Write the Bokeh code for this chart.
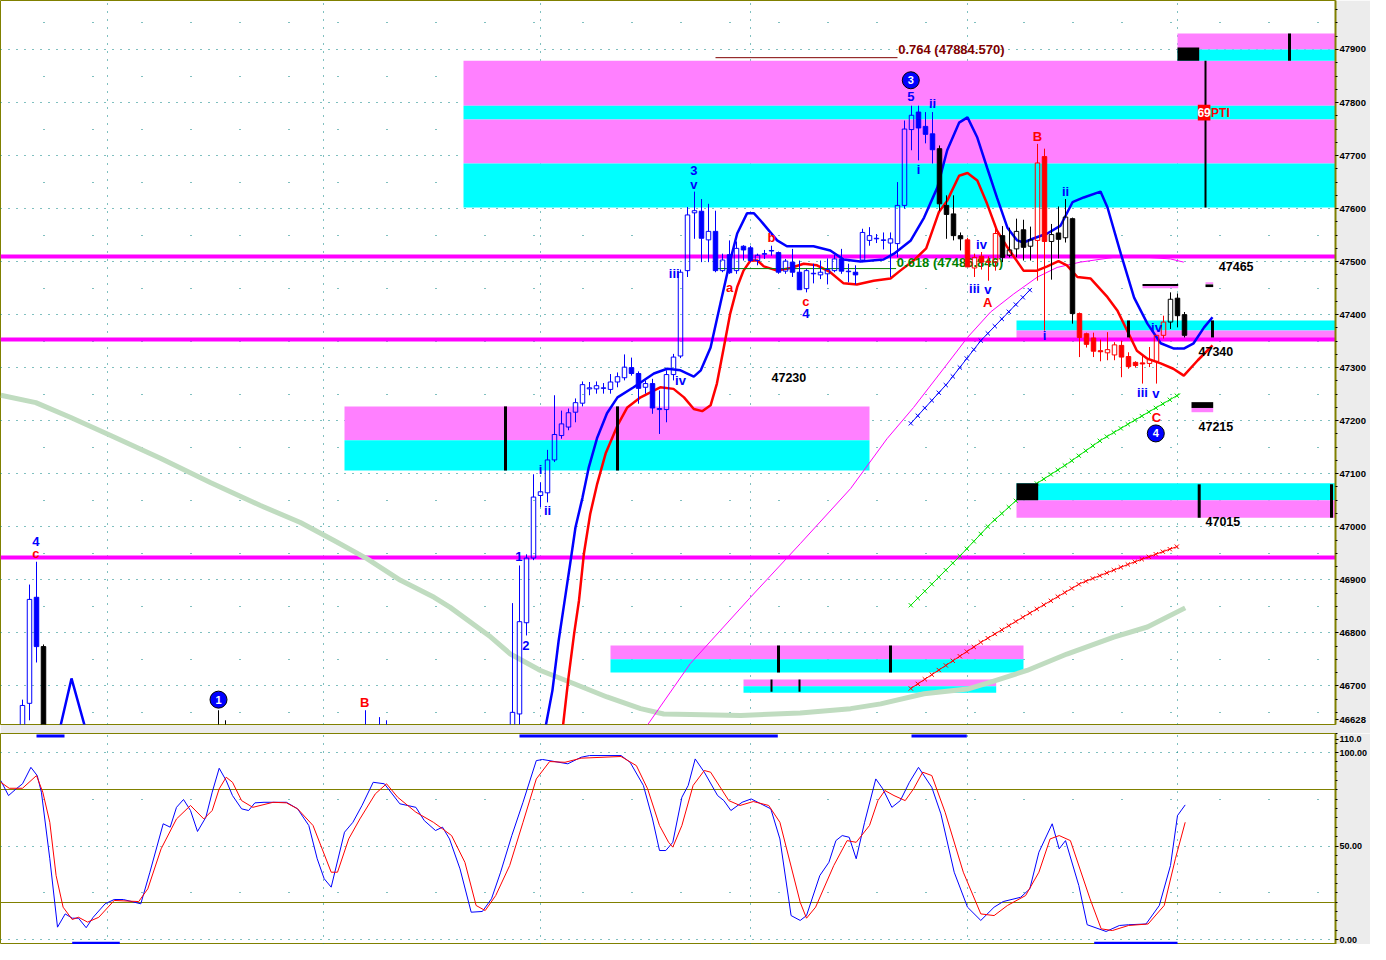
import numpy as np
from bokeh.plotting import figure
from bokeh.layouts import column
from bokeh.models import Range1d, FixedTicker, CustomJSTickFormatter, Grid, ColumnDataSource
from bokeh.embed import file_html
from bokeh.resources import INLINE
from bokeh.core.properties import value

FONT = "Liberation Sans"
BLUE, RED, BLACK = "#0000ff", "#ff0000", "#000000"
PINK, CYAN, MAGENTA = "#ff80ff", "#00ffff", "#ff00ff"
TEAL, OLIVE, LGREEN = "#008080", "#808000", "#c0dcc0"
COLORS = {"blue": BLUE, "black": BLACK, "red": RED}

# ---------------- data ----------------
candle_idx = [0, 1, 2, 3, 28, 29, 49, 51, 52,
              70, 71, 72, 73, 74, 75, 76, 77, 78, 79, 80, 81, 82, 83, 84, 85, 86, 87, 88, 89,
              90, 91, 92, 93, 94, 95, 96, 97, 98, 99, 100, 101, 102, 103, 104, 105, 106, 107, 108, 109,
              110, 111, 112, 113, 114, 115, 116, 117, 118, 119, 120, 121, 122, 123, 124, 125, 126, 127, 128, 129,
              130, 131, 132, 133, 134, 135, 136, 137, 138, 139, 140, 141, 142, 143, 144, 145, 146, 147, 148, 149,
              150, 151, 152, 153, 154, 155, 156, 157, 158, 159, 160, 161, 162, 163, 164, 165, 166]
candle_open = [46560, 46667, 46867, 46774, 46560, 46550, 46560, 46570, 46580,
               46580, 46647, 46819, 46941, 47059, 47064, 47126, 47172, 47188, 47216, 47233, 47260, 47260, 47261, 47259, 47273, 47281, 47300, 47289, 47263,
               47270, 47221, 47221, 47287, 47322, 47483, 47592, 47595, 47541, 47557, 47483, 47513, 47483, 47529, 47526, 47502, 47514, 47520, 47517, 47482,
               47499, 47480, 47449, 47477, 47475, 47477, 47483, 47505, 47481, 47480, 47503, 47540, 47543, 47540, 47535, 47534, 47606, 47749, 47782, 47755,
               47741, 47713, 47606, 47590, 47549, 47541, 47488, 47510, 47500, 47499, 47549, 47512, 47524, 47560, 47529, 47540, 47698, 47538, 47554, 47545,
               47581, 47402, 47364, 47356, 47332, 47328, 47324, 47342, 47321, 47310, 47309, 47308, 47312, 47361, 47386, 47431, 47400]
candle_high = [46674, 46891, 46934, 46778, 46654, 46635, 46654, 46641, 46635,
               46856, 46927, 46948, 47099, 47084, 47145, 47248, 47219, 47223, 47242, 47274, 47273, 47274, 47271, 47288, 47291, 47325, 47319, 47293, 47276,
               47279, 47257, 47295, 47326, 47485, 47603, 47632, 47618, 47609, 47596, 47515, 47540, 47538, 47531, 47530, 47515, 47522, 47530, 47519, 47505,
               47524, 47502, 47486, 47496, 47502, 47506, 47513, 47524, 47496, 47493, 47562, 47565, 47552, 47555, 47555, 47650, 47766, 47794, 47794, 47782,
               47782, 47719, 47625, 47625, 47555, 47545, 47515, 47518, 47510, 47571, 47567, 47564, 47581, 47579, 47566, 47722, 47713, 47571, 47604, 47618,
               47583, 47404, 47366, 47366, 47353, 47367, 47348, 47351, 47329, 47312, 47323, 47339, 47361, 47398, 47442, 47440, 47405]
candle_low = [46540, 46635, 46744, 46560, 46520, 46510, 46540, 46550, 46560,
              46570, 46620, 46795, 46937, 47037, 47046, 47122, 47166, 47182, 47197, 47227, 47248, 47251, 47251, 47251, 47263, 47276, 47285, 47232, 47251,
              47213, 47175, 47197, 47276, 47318, 47471, 47543, 47499, 47499, 47480, 47480, 47477, 47477, 47502, 47499, 47493, 47505, 47511, 47477, 47477,
              47471, 47447, 47442, 47459, 47467, 47457, 47480, 47477, 47461, 47457, 47499, 47530, 47535, 47523, 47471, 47508, 47600, 47710, 47691, 47723,
              47685, 47596, 47543, 47540, 47521, 47490, 47471, 47485, 47464, 47483, 47499, 47508, 47508, 47502, 47502, 47464, 47370, 47466, 47506, 47536,
              47383, 47320, 47338, 47320, 47312, 47314, 47314, 47282, 47298, 47300, 47270, 47301, 47270, 47355, 47373, 47376, 47357]
candle_close = [46663, 46863, 46774, 46580, 46540, 46530, 46580, 46590, 46600,
                46650, 46821, 46941, 47056, 47066, 47126, 47174, 47194, 47215, 47234, 47268, 47262, 47266, 47262, 47273, 47283, 47301, 47289, 47261, 47270,
                47224, 47223, 47287, 47320, 47480, 47588, 47596, 47544, 47557, 47483, 47503, 47479, 47525, 47522, 47502, 47512, 47515, 47521, 47480, 47501,
                47480, 47447, 47483, 47478, 47480, 47485, 47505, 47482, 47482, 47475, 47555, 47549, 47544, 47541, 47543, 47606, 47750, 47776, 47752, 47740,
                47711, 47609, 47589, 47549, 47543, 47490, 47508, 47499, 47499, 47553, 47508, 47522, 47557, 47527, 47541, 47686, 47538, 47551, 47542, 47584,
                47402, 47357, 47344, 47331, 47330, 47334, 47343, 47320, 47302, 47304, 47307, 47315, 47361, 47386, 47429, 47398, 47361]
candle_color = (["blue", "blue", "blue", "black", "black", "black", "blue", "blue", "blue"]
                + ["blue"] * 61
                + ["black"] * 4 + ["red"] * 5 + ["black"] * 5 + ["red"] * 2 + ["black"] * 4
                + ["red"] * 13 + ["black"] * 3)

# moving averages / overlays (bar index, price)
blue_ma_a_idx = [5.0, 7.0, 9.4]
blue_ma_a_val = [46600, 46714, 46600]
blue_ma_idx = [74.4, 75.7, 76.6, 77.6, 78.3, 79.0, 80.0, 80.9, 82.1, 83.5,
               85.0, 87.3, 90.2, 92.1, 94.0, 95.9, 96.9, 98.3, 99.7, 101.1,
               102.1, 103.5, 104.5, 105.4, 107.8, 109.2, 113.0, 115.4, 117.3, 119.7,
               123.0, 124.5, 126.9, 128.8, 130.7, 132.1, 133.8, 135.0, 136.4, 137.8,
               139.2, 140.7, 142.1, 143.0, 144.5, 146.4, 148.3, 150.0, 151.6, 154.0,
               155.0, 156.9, 158.8, 160.7, 162.6, 164.5, 165.9, 167.3, 168.8, 170.0]
blue_ma_val = [46600, 46691, 46786, 46874, 46936, 46999, 47055, 47112, 47168, 47214,
               47244, 47263, 47289, 47298, 47295, 47283, 47295, 47338, 47421, 47502,
               47553, 47591, 47591, 47578, 47540, 47529, 47529, 47521, 47504, 47500,
               47504, 47515, 47540, 47583, 47640, 47710, 47762, 47772, 47734, 47677,
               47621, 47564, 47540, 47536, 47544, 47553, 47568, 47612, 47621, 47632,
               47602, 47515, 47432, 47383, 47346, 47336, 47336, 47346, 47376, 47395]
red_ma_idx = [77.0, 78.0, 78.8, 79.5, 80.2, 81.1, 82.1, 83.3, 85.0, 86.4,
              88.3, 91.1, 93.0, 94.5, 95.9, 97.1, 98.3, 99.2, 100.2, 101.1,
              102.1, 103.0, 104.0, 105.0, 105.9, 107.8, 109.7, 111.6, 113.5, 115.4,
              117.3, 119.2, 121.6, 124.0, 125.4, 127.3, 129.1, 130.9, 132.1, 133.8,
              135.0, 136.4, 137.8, 139.2, 140.7, 143.0, 144.9, 146.4, 148.0, 149.2,
              150.7, 152.6, 155.0, 156.4, 157.8, 159.2, 160.7, 162.6, 164.4, 165.9,
              167.9, 170.0]
red_ma_val = [46600, 46716, 46798, 46861, 46949, 47024, 47081, 47138, 47191, 47225,
              47244, 47263, 47260, 47244, 47222, 47218, 47229, 47270, 47339, 47402,
              47452, 47483, 47502, 47502, 47491, 47483, 47488, 47496, 47493, 47480,
              47459, 47457, 47464, 47468, 47483, 47502, 47525, 47593, 47615, 47662,
              47667, 47653, 47609, 47559, 47527, 47483, 47483, 47491, 47501, 47493,
              47471, 47468, 47433, 47408, 47370, 47332, 47317, 47308, 47298, 47285,
              47314, 47342]
mag_idx = [87.9, 95.4, 104.0, 111.1, 118.3, 123.5, 127.3, 132.1, 135.0, 138.3,
           141.6, 145.0, 147.8, 151.1, 155.9, 160.7, 164.0, 165.9]
mag_val = [46600, 46742, 46867, 46968, 47072, 47166, 47225, 47307, 47357, 47405,
           47439, 47471, 47489, 47499, 47508, 47508, 47505, 47499]
slow_idx = [-3.1, 1.9, 6.9, 12.6, 19.7, 26.9, 34.0, 39.7, 44.5, 49.2,
            54.0, 58.8, 61.1, 66.9, 69.7, 74.0, 78.8, 83.5, 88.3, 91.6,
            95.4, 102.6, 111.1, 118.3, 122.6, 128.8, 135.0, 138.3, 143.5, 149.2,
            155.9, 160.7, 166.1]
slow_val = [47248, 47234, 47206, 47172, 47129, 47083, 47040, 47008, 46974, 46940,
            46899, 46867, 46848, 46792, 46760, 46729, 46704, 46679, 46657, 46647,
            46646, 46644, 46649, 46657, 46666, 46685, 46694, 46707, 46729, 46760,
            46792, 46811, 46847]
bluex_idx = [126.9, 132.1, 136.9, 144.1]
bluex_val = [47195, 47270, 47351, 47449]
greenx_idx = [126.9, 134.0, 138.3, 144.0, 149.3, 154.0, 160.7, 165.4]
greenx_val = [46852, 46946, 47006, 47074, 47119, 47163, 47215, 47251]
redx_idx = [126.9, 136.9, 144.0, 151.1, 158.3, 165.0]
redx_val = [46695, 46782, 46838, 46893, 46931, 46963]

# zones
zone_left = [63, 63, 63, 63, 165, 165, 46, 46, 142, 142, 142, 142, 84, 84, 103, 103]
zone_right = [187.9, 187.9, 187.9, 187.9, 187.9, 187.9, 121, 121, 187.9, 187.9, 187.9, 187.9, 143, 143, 139.1, 139.1]
zone_bottom = [47794, 47768, 47685, 47602, 47900, 47879, 47163, 47106, 47370, 47351, 47050, 47017, 46750, 46725, 46699, 46687]
zone_top = [47879, 47794, 47768, 47685, 47930, 47900, 47227, 47163, 47389, 47370, 47082, 47050, 46776, 46750, 46712, 46699]
zone_kind = ["pink", "cyan", "pink", "cyan", "pink", "cyan", "pink", "cyan", "cyan", "pink", "cyan", "pink", "pink", "cyan", "pink", "cyan"]
magenta_levels = [47510, 47353, 46942]

# black markers
mark_idx = [69.0, 85.0, 108.0, 124.0, 168.1, 187.0, 158.0, 170.0, 181.0]
mark_lo = [47106, 47106, 46725, 46725, 47017, 47017, 47357, 47357, 47879]
mark_hi = [47227, 47227, 46776, 46776, 47080, 47080, 47389, 47389, 47930]
thin_mark_idx = [107.0, 111.0, 169.0]
thin_mark_lo = [46689, 46689, 47602]
thin_mark_hi = [46712, 46712, 47879]
box_left = [165.0, 142.0, 160.0, 160.0, 169.0, 169.0, 167.0, 167.0]
box_right = [168.1, 145.1, 165.1, 165.1, 170.1, 170.1, 170.1, 170.1]
box_bottom = [47879, 47050, 47454, 47450, 47458, 47452, 47224, 47216]
box_top = [47904, 47082, 47458, 47454, 47461, 47457, 47235, 47224]
box_kind = ["black", "black", "black", "pink", "pink", "black", "black", "pink"]

# labels
wave_text = ["4", "c", "B", "1", "2", "i", "ii", "3", "v", "iii", "iv", "a", "b", "c", "4",
             "5", "ii", "i", "iv", "iii", "v", "A", "B", "ii", "i", "iv", "iii", "v", "C"]
wave_idx = [1.9, 1.9, 48.9, 70.9, 71.9, 74.0, 75.0, 95.9, 95.9, 93.1, 94.0, 101.0, 107.0, 111.9, 111.9,
            126.9, 130.0, 128.0, 137.0, 136.0, 137.9, 137.9, 145.0, 149.0, 146.0, 162.0, 160.0, 161.9, 162.0]
wave_val = [46972, 46950, 46669, 46944, 46776, 47108, 47031, 47672, 47645, 47478, 47276, 47451, 47545, 47425, 47402,
            47811, 47798, 47674, 47532, 47449, 47447, 47423, 47736, 47632, 47361, 47376, 47253, 47251, 47206]
wave_color = ["blue", "red", "red", "blue", "blue", "blue", "blue", "blue", "blue", "blue", "blue", "red", "red", "red", "blue",
              "blue", "blue", "blue", "blue", "blue", "blue", "red", "red", "blue", "blue", "blue", "blue", "blue", "red"]
circle_text = ["1", "3", "4"]
circle_idx = [28.0, 126.9, 161.9]
circle_val = [46674, 47842, 47176]
level_text = ["47465", "47340", "47215", "47015", "47230"]
level_idx = [170.9, 168.0, 168.0, 169.0, 107.0]
level_val = [47491, 47331, 47189, 47010, 47282]
fib_text = ["0.764 (47884.570)", "0.618 (47486.846)"]
fib_level = [47884.570, 47486.846]
fib_start = [99.0, 99.2]
fib_end = [125.0, 124.8]
fib_label_val = [47900, 47498]
fib_color = ["#800000", "#008000"]

price_ticks = [46700, 46800, 46900, 47000, 47100, 47200, 47300, 47400, 47500, 47600, 47700, 47800, 47900]
price_half_ticks = [46650, 46750, 46850, 46950, 47050, 47150, 47250, 47350, 47450, 47550, 47650, 47750, 47850, 47950]
price_floor_text = "46628"
time_ticks = [12.1, 43.0, 74.0, 104.0, 135.0, 165.0]

# stochastic
k_idx = [-3.1, -2.0, -0.9, 0.0, 1.2, 2.1, 2.7, 3.9, 5.0, 6.1, 7.1, 8.0, 9.1, 10.1, 11.8, 13.1, 14.4, 16.9, 18.2, 20.1,
         21.1, 22.0, 23.0, 24.0, 25.0, 26.2, 27.1, 28.1, 29.1, 30.0, 31.3, 32.3, 33.2, 34.5, 37.7, 39.3, 40.9, 42.1, 43.1, 44.1,
         46.0, 47.2, 48.5, 50.1, 51.7, 53.9, 56.2, 57.4, 59.0, 60.0, 61.0, 62.5, 64.1, 65.7, 67.0, 68.3, 69.9, 71.5, 73.4, 74.3,
         77.9, 79.8, 81.0, 85.5, 86.8, 88.7, 90.0, 91.0, 91.9, 92.9, 94.2, 95.1, 96.1, 97.4, 99.3, 100.2, 101.2, 102.8, 104.1, 106.9,
         108.2, 109.8, 111.1, 112.0, 113.9, 115.2, 116.2, 117.1, 118.1, 119.1, 120.3, 121.9, 122.9, 124.2, 125.4, 126.7, 128.0, 129.9, 131.2, 133.1,
         135.0, 136.9, 138.8, 140.1, 142.6, 143.9, 145.2, 147.1, 148.1, 149.0, 150.9, 152.1, 154.8, 156.7, 158.0, 160.5, 162.4, 164.0, 165.0, 166.1]
k_val = [85.0, 77.0, 80.6, 83.3, 92.1, 87.7, 78.8, 43.2, 6.6, 13.7, 11.4, 11.4, 6.3, 11.9, 19.1, 21.4, 21.4, 19.1, 36.0, 61.9,
         60.1, 70.7, 74.9, 69.0, 57.8, 65.4, 78.8, 91.6, 85.0, 77.0, 69.9, 69.0, 73.1, 73.4, 73.4, 69.9, 61.0, 43.2, 32.5, 28.0,
         57.4, 62.7, 71.7, 84.1, 83.3, 72.6, 70.7, 63.6, 58.3, 60.1, 53.8, 37.8, 14.6, 15.0, 21.8, 36.0, 55.6, 73.4, 95.7, 96.3,
         94.0, 97.5, 98.4, 98.4, 94.8, 82.4, 64.5, 47.6, 47.6, 52.0, 76.1, 82.4, 96.6, 89.5, 77.0, 74.3, 69.0, 73.4, 75.2, 69.9,
         53.8, 12.8, 10.2, 12.8, 34.2, 41.3, 52.9, 55.6, 54.7, 43.2, 62.7, 85.9, 80.6, 70.7, 74.3, 84.1, 92.1, 81.4, 67.2, 36.0,
         17.3, 10.2, 17.3, 20.3, 22.6, 27.1, 46.7, 61.9, 48.5, 52.9, 28.9, 7.9, 4.3, 7.5, 7.9, 8.3, 18.2, 39.6, 66.3, 72.0]
d_idx = [-3.1, -1.9, 0.0, 2.0, 2.9, 3.9, 4.8, 5.8, 7.1, 8.0, 9.3, 10.9, 13.1, 16.6, 17.9, 19.8, 22.0, 24.0, 25.9, 27.1,
         28.1, 29.1, 30.0, 31.3, 32.9, 35.8, 37.7, 39.3, 41.5, 42.8, 44.1, 45.0, 46.6, 48.2, 50.4, 52.0, 53.6, 56.2, 58.7, 60.0,
         61.3, 63.2, 64.8, 66.1, 67.6, 69.6, 71.5, 73.4, 75.3, 77.5, 79.8, 85.5, 87.7, 89.3, 91.0, 92.3, 92.9, 94.2, 95.8, 97.4,
         98.3, 100.9, 102.5, 104.4, 106.6, 108.2, 111.1, 112.0, 113.3, 115.9, 117.8, 119.1, 121.0, 122.2, 123.2, 124.5, 126.1, 127.3, 128.6, 129.9,
         131.8, 134.4, 136.9, 138.8, 140.7, 143.3, 145.2, 146.8, 148.1, 149.7, 152.5, 154.1, 155.7, 158.0, 160.8, 163.1, 164.7, 166.1]
d_val = [84.1, 80.9, 80.9, 87.7, 78.8, 62.7, 34.2, 17.3, 10.7, 11.9, 9.3, 11.9, 20.9, 20.3, 27.1, 48.5, 64.5, 71.7, 64.5, 69.0,
         80.6, 86.8, 84.1, 74.3, 70.7, 73.4, 73.1, 69.9, 61.0, 48.5, 36.0, 36.0, 53.8, 64.5, 77.9, 83.3, 76.1, 68.1, 62.7, 59.2,
         55.6, 41.3, 18.2, 15.5, 23.5, 39.6, 62.7, 85.9, 95.2, 94.8, 97.0, 97.9, 93.0, 80.6, 61.0, 52.0, 49.4, 61.0, 82.4, 90.4,
         89.5, 74.3, 71.7, 73.8, 71.7, 62.7, 19.9, 11.4, 17.3, 39.6, 52.9, 52.0, 61.0, 74.3, 79.7, 77.0, 74.3, 80.6, 89.5, 87.7,
         68.1, 36.0, 13.7, 12.8, 18.2, 23.5, 36.0, 53.8, 55.6, 52.9, 21.8, 5.7, 4.8, 7.5, 8.3, 18.2, 43.2, 62.7]
sig_top_left = [2.0, 71.0, 127.0]
sig_top_right = [6.0, 107.9, 134.9]
sig_bot_left = [7.1, 153.1]
sig_bot_right = [13.9, 165.0]
sto_ticks = [0, 50, 100]
sto_half_ticks = [25, 75]
sto_bands = [80, 20]
sto_ceiling_text = "110.0"

# ---------------- layout constants ----------------
FIG_W = 1370
RIGHT_BORDER = 35
PX_PER_BAR = 7.0
X_START = -3.143
X_END = X_START + (FIG_W - RIGHT_BORDER) / PX_PER_BAR
PRICE_LO, PRICE_HI = 46627.1, 47992.4
STO_LO, STO_HI = -2.67, 110.2
PRICE_FLOOR_TICK = PRICE_LO + 9
STO_CEIL_TICK = STO_HI - 3.2
BODY_HALF = 0.32


def setup(fig, ticks, half_ticks, minor, label_ticks, fmt_code, size):
    ax = fig.yaxis[0]
    ax.ticker = FixedTicker(ticks=label_ticks, minor_ticks=minor)
    ax.formatter = CustomJSTickFormatter(code=fmt_code)
    ax.major_tick_out = 3
    ax.major_tick_in = 0
    ax.minor_tick_out = 2
    ax.minor_tick_in = 0
    ax.major_label_standoff = 1
    ax.major_label_text_font = FONT
    ax.major_label_text_font_style = "bold"
    ax.major_label_text_font_size = size
    ax.major_label_text_color = BLACK
    ax.axis_line_color = OLIVE
    ax.axis_line_width = 2
    ax.major_tick_line_color = BLACK
    ax.minor_tick_line_color = BLACK
    fig.ygrid.ticker = FixedTicker(ticks=ticks)
    fig.ygrid.grid_line_color = TEAL
    fig.ygrid.grid_line_dash = "1 7"
    fig.xgrid.ticker = FixedTicker(ticks=time_ticks)
    fig.xgrid.grid_line_color = TEAL
    fig.xgrid.grid_line_dash = "1 7"
    fig.add_layout(Grid(dimension=1, ticker=FixedTicker(ticks=half_ticks),
                        grid_line_color=TEAL, grid_line_dash="1 48", grid_line_dash_offset=6))


# ---------------- price panel ----------------
p = figure(width=FIG_W, height=733, x_range=Range1d(X_START, X_END), y_range=Range1d(PRICE_LO, PRICE_HI),
           output_backend="svg", toolbar_location=None, x_axis_location=None, y_axis_location="right",
           min_border_left=0, min_border_top=0, min_border_bottom=9, min_border_right=RIGHT_BORDER,
           background_fill_color="white", border_fill_color="#ececec", outline_line_color=OLIVE)
setup(p, price_ticks, price_half_ticks, list(range(46650, 47976, 25)),
      [PRICE_FLOOR_TICK] + price_ticks,
      "return tick < %f ? '%s' : tick.toFixed(0);" % (price_ticks[0] - 20, price_floor_text), "9.5px")

zone_fill = [PINK if k == "pink" else CYAN for k in zone_kind]
p.quad(left=zone_left, right=zone_right, bottom=zone_bottom, top=zone_top, fill_color=zone_fill, line_color=None)
p.hspan(y=magenta_levels, line_color=MAGENTA, line_width=4)

p.line(slow_idx, slow_val, line_color=LGREEN, line_width=5)
p.line(mag_idx, mag_val, line_color=MAGENTA, line_width=1)

# regression-style cross lines (markers spaced one bar apart along each drawn line)
for xs, ys, col in [(bluex_idx, bluex_val, BLUE), (greenx_idx, greenx_val, "#00e000"), (redx_idx, redx_val, RED)]:
    p.line(xs, ys, line_color=col, line_width=1)
    mx = np.arange(xs[0], xs[-1] + 0.01, 1.0)
    my = np.interp(mx, xs, ys)
    p.scatter(mx, my, marker="x", size=6, line_color=col, line_width=1)

p.line(blue_ma_a_idx, blue_ma_a_val, line_color=BLUE, line_width=2.5)
p.line(blue_ma_idx, blue_ma_val, line_color=BLUE, line_width=2.5)
p.line(red_ma_idx, red_ma_val, line_color=RED, line_width=2.5)

# fib levels
for t, lvl, x0, x1, yl, col in zip(fib_text, fib_level, fib_start, fib_end, fib_label_val, fib_color):
    p.segment(x0=[x0], y0=[lvl], x1=[x1], y1=[lvl], line_color=col, line_width=1)
    p.text(x=[x1 + 0.1], y=[yl], text=[t], text_color=col, text_font=value(FONT), text_font_size="13px",
           text_font_style="bold", text_align="left", text_baseline="middle")

# candles
o = np.array(candle_open, float)
c = np.array(candle_close, float)
top = np.maximum(o, c)
bot = np.minimum(o, c)
up = c >= o
cols = [COLORS[k] for k in candle_color]
xi = np.array(candle_idx, float)
src = ColumnDataSource(dict(x=xi, left=xi - BODY_HALF, right=xi + BODY_HALF, top=top, bot=bot,
                            h=candle_high, l=candle_low, col=cols, fa=np.where(up, 0.0, 1.0)))
p.segment(x0="x", y0="top", x1="x", y1="h", line_color="col", line_width=1, source=src)
p.segment(x0="x", y0="l", x1="x", y1="bot", line_color="col", line_width=1, source=src)
p.quad(left="left", right="right", bottom="bot", top="top", fill_color="col", fill_alpha="fa",
       line_color="col", line_width=1, source=src)

# markers and small boxes
p.segment(x0=mark_idx, y0=mark_lo, x1=mark_idx, y1=mark_hi, line_color=BLACK, line_width=3)
p.segment(x0=thin_mark_idx, y0=thin_mark_lo, x1=thin_mark_idx, y1=thin_mark_hi, line_color=BLACK, line_width=2)
p.quad(left=box_left, right=box_right, bottom=box_bottom, top=box_top,
       fill_color=[BLACK if k == "black" else PINK for k in box_kind], line_color=None)

# PTI tag
p.quad(left=[167.9], right=[169.7], bottom=[47766], top=[47796], fill_color=RED, line_color=None)
p.text(x=[168.8], y=[47781], text=["69"], text_color="white", text_font=value(FONT), text_font_size="12px",
       text_font_style="bold", text_align="center", text_baseline="middle")
p.text(x=[169.8], y=[47781], text=["PTI"], text_color=RED, text_font=value(FONT), text_font_size="12px",
       text_font_style="bold", text_align="left", text_baseline="middle")

# wave labels
p.text(x=wave_idx, y=wave_val, text=wave_text, text_color=[COLORS[k] for k in wave_color],
       text_font=value(FONT), text_font_size="13px", text_font_style="bold",
       text_align="center", text_baseline="middle")
p.scatter(circle_idx, circle_val, marker="circle", size=17, fill_color=BLUE, line_color=BLACK, line_width=1)
p.text(x=circle_idx, y=circle_val, text=circle_text, text_color="white", text_font=value(FONT),
       text_font_size="11px", text_font_style="bold", text_align="center", text_baseline="middle")
p.text(x=level_idx, y=level_val, text=level_text, text_color=BLACK, text_font=value(FONT),
       text_font_size="12.5px", text_font_style="bold", text_align="left", text_baseline="middle")

# ---------------- stochastic panel ----------------
q = figure(width=FIG_W, height=211, x_range=p.x_range, y_range=Range1d(STO_LO, STO_HI),
           output_backend="svg", toolbar_location=None, x_axis_location=None, y_axis_location="right",
           min_border_left=0, min_border_top=0, min_border_bottom=0, min_border_right=RIGHT_BORDER,
           background_fill_color="white", border_fill_color="#ececec", outline_line_color=OLIVE)
setup(q, sto_ticks, sto_half_ticks, list(range(0, 111, 5)),
      sto_ticks + [STO_CEIL_TICK],
      "return tick > %f ? '%s' : tick.toFixed(2);" % (sto_ticks[-1] + 2, sto_ceiling_text), "9px")
q.hspan(y=sto_bands, line_color=OLIVE, line_width=1)
q.line(k_idx, k_val, line_color=BLUE, line_width=1)
q.line(d_idx, d_val, line_color=RED, line_width=1)
q.quad(left=sig_top_left, right=sig_top_right, bottom=[108.0] * 3, top=[109.6] * 3, fill_color=BLUE, line_color=None)
q.quad(left=sig_bot_left, right=sig_bot_right, bottom=[-2.67] * 2, top=[-1.2] * 2, fill_color=BLUE, line_color=None)

layout = column(p, q, spacing=0)
open("out.html", "w").write(file_html(layout, INLINE))
